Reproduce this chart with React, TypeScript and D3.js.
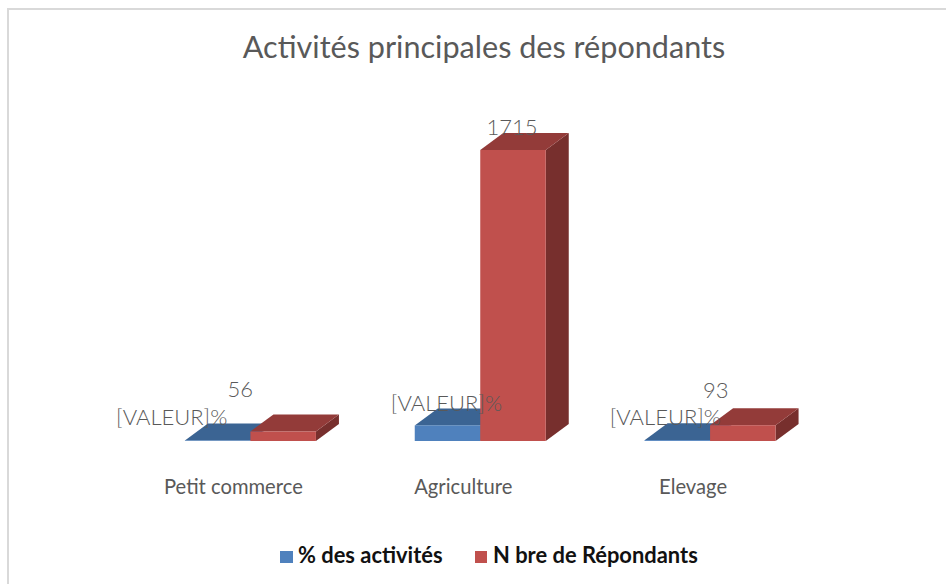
import React from "react";
import * as d3 from "d3";

const title = "Activités principales des répondants";
const categories = ["Petit commerce", "Agriculture", "Elevage"];
const seriesNames = ["% des activités", "N bre de Répondants"];
const percentValues = [3, 92, 5];
const respondentValues = [56, 1715, 93];
const percentLabel = "[VALEUR]%";

const W = 946;
const H = 584;
const FONT = "Lato, 'Open Sans', sans-serif";
const BLUE = { front: "#4f81bd", top: "#3b6493", side: "#2f5079" };
const RED = { front: "#c0504d", top: "#933b39", side: "#772f2d" };
const DX = 23;
const DY = 17;

const x = d3.scaleBand<string>().domain(categories).range([135.5, 825]).paddingInner(0.43).paddingOuter(0.215);
const y = d3.scaleLinear().domain([0, 1715]).range([441, 150]);

const percentLabelPos = [
  { dx: -46, y: 425 },
  { dx: -1, y: 411 },
  { dx: -12, y: 425 },
];
const respondentLabelPos = [
  { dx: -43, y: 397 },
  { dx: -1, y: 135 },
  { dx: -27, y: 398 },
];

function Bar3D({ x0, w, v, c }: { x0: number; w: number; v: number; c: typeof BLUE }) {
  const t = y(v);
  const b = y(0);
  const x1 = x0 + w;
  return (
    <g>
      <polygon points={`${x1},${t} ${x1 + DX},${t - DY} ${x1 + DX},${b - DY} ${x1},${b}`} fill={c.side} />
      <polygon points={`${x0},${t} ${x0 + DX},${t - DY} ${x1 + DX},${t - DY} ${x1},${t}`} fill={c.top} />
      <rect x={x0} y={t} width={w} height={b - t} fill={c.front} />
    </g>
  );
}

export default function App() {
  const w = x.bandwidth() / 2;
  return (
    <svg width={W} height={H} viewBox={`0 0 ${W} ${H}`} style={{ position: "fixed", left: 0, top: 0, background: "#fff" }} fontFamily={FONT}>
      <rect x={8} y={9} width={W + 10} height={H + 10} fill="none" stroke="#d9d9d9" strokeWidth={2} />
      <text x={484} y={58} textAnchor="middle" fontSize={30.6} fill="#595959">{title}</text>

      {categories.map((cat, i) => {
        const x0 = x(cat)!;
        return (
          <g key={cat}>
            <Bar3D x0={x0} w={w} v={percentValues[i]} c={BLUE} />
            <Bar3D x0={x0 + w} w={w} v={respondentValues[i]} c={RED} />
          </g>
        );
      })}

      {categories.map((cat, i) => {
        const x0 = x(cat)!;
        return (
          <g key={cat} fontSize={22} fill="#595959" textAnchor="middle" fontWeight={300}>
            <text x={x0 + w / 2 + percentLabelPos[i].dx} y={percentLabelPos[i].y}>{percentLabel}</text>
            <text x={x0 + w * 1.5 + respondentLabelPos[i].dx} y={respondentLabelPos[i].y}>{respondentValues[i]}</text>
            <text x={x0 + w - 17} y={494} fontSize={20.2} fontWeight={400}>{cat}</text>
          </g>
        );
      })}

      <g fontSize={21.9} fontWeight={700} fill="#111">
        <rect x={280} y={551} width={13} height={12} fill={BLUE.front} />
        <text x={298} y={563}>{seriesNames[0]}</text>
        <rect x={475} y={551} width={12} height={12} fill={RED.front} />
        <text x={493} y={563}>{seriesNames[1]}</text>
      </g>
    </svg>
  );
}
